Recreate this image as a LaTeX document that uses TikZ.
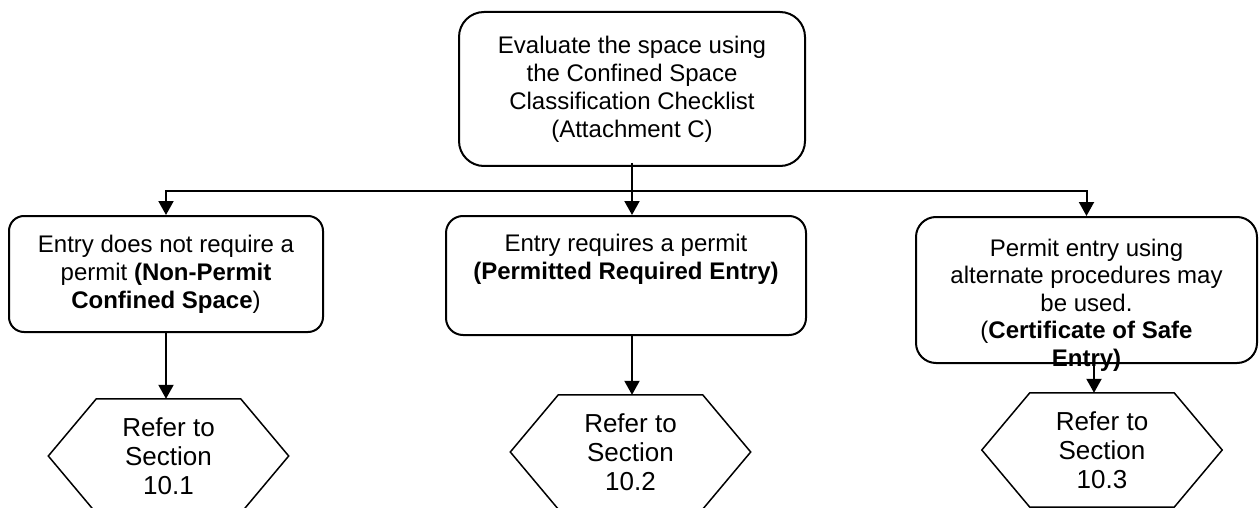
\documentclass[tikz,border=0pt]{standalone}
\usepackage{fontspec}
\setmainfont{Liberation Sans}
\usetikzlibrary{arrows.meta,calc}
\tikzset{
  flowbox/.style={draw, line width=2pt, rounded corners=#1, align=center, inner sep=0pt, font=\fontsize{24}{28}\selectfont},
  boxtext/.style={align=center, inner sep=0pt, font=\fontsize{24}{27.5}\selectfont},
  hexnode/.style={minimum width=144pt, minimum height=114pt, inner sep=0pt, align=center, font=\fontsize{26}{29}\selectfont},
  hexline/.style={line width=1.5pt, line join=miter},
  arr/.style={line width=2pt, -{Triangle[width=15pt,length=14pt]}},
}
\begin{document}
\begin{tikzpicture}[x=1pt,y=-1pt]
\clip (0,0) rectangle (1259,508);
\fill[white] (0,0) rectangle (1259,508);

\node[flowbox=25pt, minimum width=346pt, minimum height=154pt] (top) at (632,89)
  {Evaluate the space using\\the Confined Space\\Classification Checklist\\(Attachment C)};

\node[flowbox=15pt, minimum width=314pt, minimum height=116pt] (lbox) at (166,274)
  {Entry does not require a\\permit \textbf{(Non-Permit}\\\textbf{Confined Space})};

\node[flowbox=17pt, minimum width=360pt, minimum height=119pt] (mbox) at (626,275.5)
  {Entry requires a permit\\\textbf{(Permitted Required Entry)}\\\strut};

\node[flowbox=20pt, minimum width=341pt, minimum height=146pt] (rbox) at (1086.5,290) {};
\node[boxtext] (rtext) at (1086.5,305)
  {Permit entry using\\alternate procedures may\\be used.\\(\textbf{Certificate of Safe}\\\textbf{Entry)}};

\node[hexnode] (lhex) at (168.5,456) {Refer to\\Section\\10.1};
\node[hexnode] (mhex) at (630.5,452) {Refer to\\Section\\10.2};
\node[hexnode] (rhex) at (1102,450) {Refer to\\Section\\10.3};

\foreach \h in {lhex,mhex,rhex}{
  \draw[hexline] (\h.north west) -- (\h.north east) -- ($(\h.east)+(48,0)$)
    -- (\h.south east) -- (\h.south west) -- ($(\h.west)+(-48,0)$) -- cycle;
}

\coordinate (jline) at (0,191);
\draw[arr] ([yshift=4pt]top.south) -- (top.south |- mbox.north);
\draw[arr] (top.south |- jline) -| (lbox.north);
\draw[arr] (top.south |- jline) -| (rbox.north);

\draw[arr] (lbox.south) -- (lbox.south |- lhex.north);
\draw[arr] ([xshift=6pt]mbox.south) -- ([xshift=6pt]mbox.south |- mhex.north);
\draw[arr] ([xshift=7.5pt]rbox.south) -- ([xshift=7.5pt]rbox.south |- rhex.north);
\end{tikzpicture}
\end{document}
